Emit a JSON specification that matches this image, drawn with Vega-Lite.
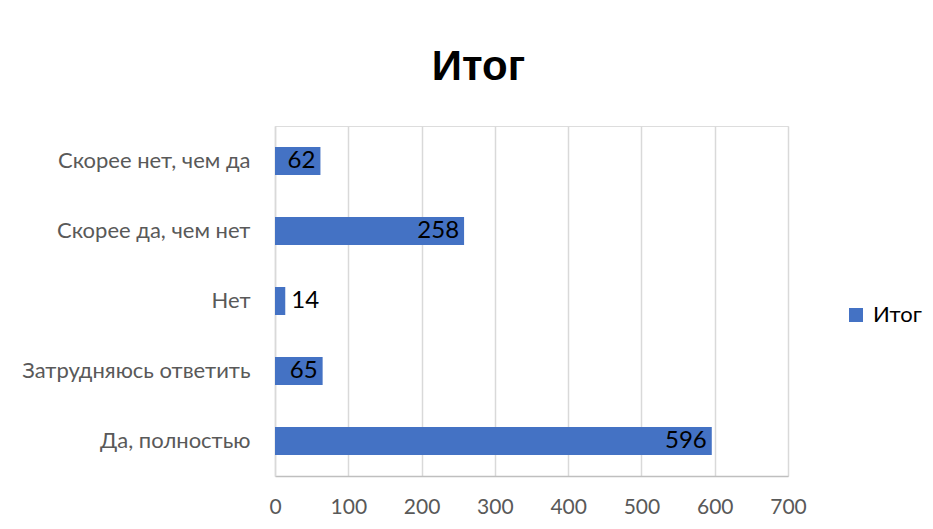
{
  "$schema": "https://vega.github.io/schema/vega-lite/v6.json",
  "autosize": {"type": "none"},
  "padding": {"left": 275, "top": 126, "right": 145, "bottom": 53},
  "width": 513,
  "height": 350,
  "background": "white",
  "title": {
    "text": "Итог",
    "font": "Liberation Sans Narrow, Liberation Sans, Arial",
    "fontSize": 42,
    "fontWeight": "bold",
    "color": "#000000",
    "anchor": "middle",
    "baseline": "alphabetic",
    "offset": 4,
    "dx": -53
  },
  "data": {
    "values": [
      {"category": "Скорее нет, чем да", "value": 62},
      {"category": "Скорее да, чем нет", "value": 258},
      {"category": "Нет", "value": 14},
      {"category": "Затрудняюсь ответить", "value": 65},
      {"category": "Да, полностью", "value": 596}
    ]
  },
  "encoding": {
    "y": {
      "field": "category",
      "type": "nominal",
      "sort": ["Скорее нет, чем да", "Скорее да, чем нет", "Нет", "Затрудняюсь ответить", "Да, полностью"],
      "scale": {"paddingInner": 0.6, "paddingOuter": 0.3},
      "axis": {
        "title": null,
        "ticks": false,
        "domain": true,
        "domainColor": "#D9D9D9",
        "domainWidth": 1.5,
        "labelFont": "Lato",
        "labelFontSize": 22,
        "labelColor": "#595959",
        "labelPadding": 25,
        "labelLimit": 300,
        "grid": false
      }
    },
    "x": {
      "field": "value",
      "type": "quantitative",
      "scale": {"domain": [0, 700], "nice": false},
      "axis": {
        "title": null,
        "values": [0, 100, 200, 300, 400, 500, 600, 700],
        "ticks": false,
        "domain": true,
        "domainColor": "#BFBFBF",
        "domainWidth": 1.5,
        "grid": true,
        "gridColor": "#D9D9D9",
        "gridWidth": 1.5,
        "labelFont": "Lato",
        "labelFontSize": 21,
        "labelColor": "#595959",
        "labelPadding": 20,
        "labelFlush": false
      }
    }
  },
  "layer": [
    {
      "mark": {"type": "bar"},
      "encoding": {
        "color": {
          "datum": "Итог",
          "scale": {"range": ["#4472C4"]},
          "legend": {
            "title": null,
            "orient": "none",
            "legendX": 570,
            "legendY": 178,
            "symbolType": "square",
            "symbolSize": 196,
            "symbolStrokeWidth": 0,
            "labelFont": "Lato",
            "labelFontSize": 22,
            "labelColor": "#000000",
            "labelOffset": 6
          }
        }
      }
    },
    {
      "transform": [{"filter": "datum.value >= 30"}],
      "mark": {"type": "text", "align": "right", "baseline": "middle", "dx": -5, "font": "Lato", "fontSize": 24, "color": "#000000"},
      "encoding": {"text": {"field": "value", "type": "quantitative"}}
    },
    {
      "transform": [{"filter": "datum.value < 30"}],
      "mark": {"type": "text", "align": "left", "baseline": "middle", "dx": 6, "font": "Lato", "fontSize": 24, "color": "#000000"},
      "encoding": {"text": {"field": "value", "type": "quantitative"}}
    }
  ]
}
